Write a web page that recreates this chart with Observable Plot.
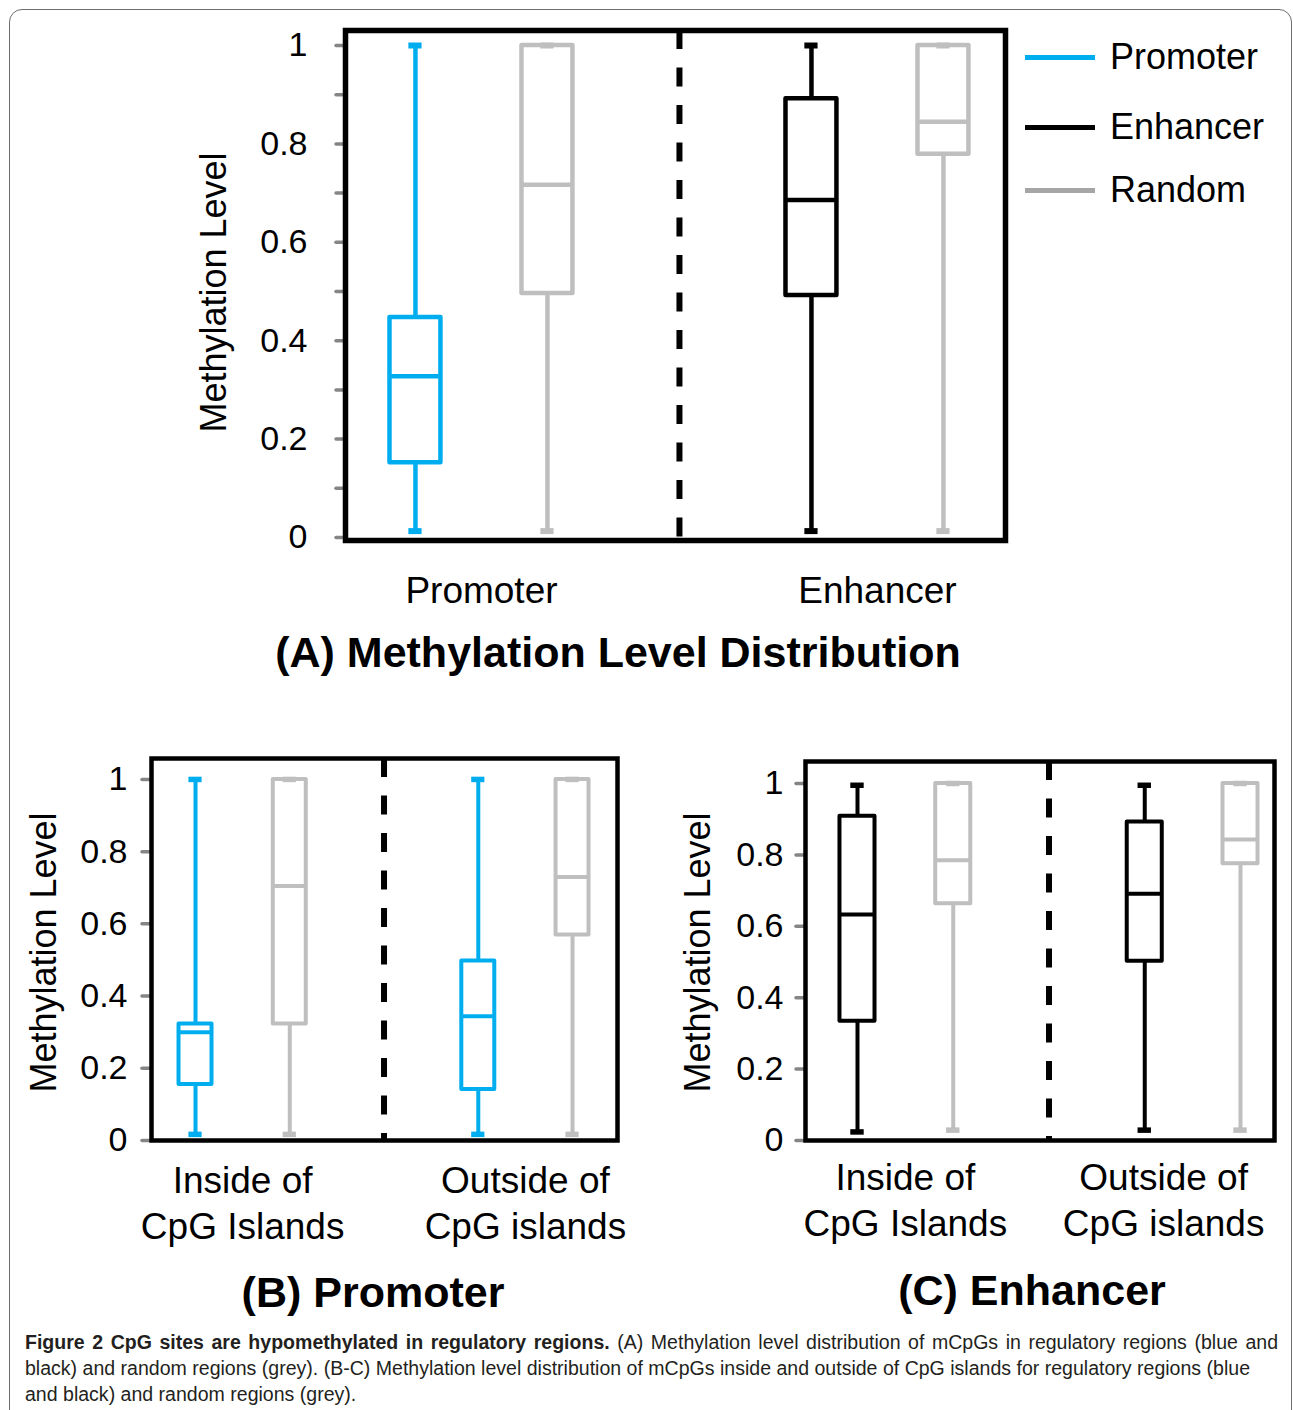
<!DOCTYPE html>
<html>
<head>
<meta charset="utf-8">
<script src="https://cdn.jsdelivr.net/npm/d3@7"></script>
<script src="https://cdn.jsdelivr.net/npm/@observablehq/plot@0.6"></script>
<style>
  html, body { margin: 0; padding: 0; background: #fff; }
  body { width: 1293px; height: 1410px; position: relative; overflow: hidden;
         font-family: "Liberation Sans", Arial, sans-serif; color: #000; }
  #border { position: absolute; left: 9px; top: 9px; width: 1281px; height: 1450px;
            border: 1.5px solid #6e6e6e; border-radius: 13px; }
  .panel { position: absolute; }
  .panel svg { overflow: visible; }
  .title { position: absolute; font-weight: bold; font-size: 43px; line-height: 1;
           transform: translate(-50%, -50%); white-space: nowrap; }
  .legrow { position: absolute; left: 1025px; transform: translateY(-50%); display: flex;
            align-items: center; font-size: 36px; line-height: 1; white-space: nowrap; }
  .legrow .bar { width: 70px; height: 5px; margin-right: 15px; }
  #caption { position: absolute; left: 25px; top: 1329px;
             font-family: "Liberation Sans", Arial, sans-serif;
             font-size: 20px; line-height: 26px; color: #231f20; transform-origin: 0 0; }
  #caption div { white-space: nowrap; }
  #caption div.just { text-align: justify; text-align-last: justify; }
</style>
</head>
<body>
<div id="border"></div>
<div id="plotA" class="panel" style="left:0px;top:0px"></div>
<div id="plotB" class="panel" style="left:0px;top:700px"></div>
<div id="plotC" class="panel" style="left:640px;top:700px"></div>
<div id="titleA" class="title" style="left:618px;top:652px"></div>
<div id="titleB" class="title" style="left:373px;top:1292px"></div>
<div id="titleC" class="title" style="left:1032px;top:1290px"></div>
<div id="legend"></div>
<div id="caption"></div>
<script>
// ---------------- DATA ----------------
const seriesNames   = ["Promoter", "Enhancer", "Random"];
const seriesColors  = ["#00AEEF", "#000000", "#BFBFBF"];
const legendColors  = ["#00AEEF", "#000000", "#A6A6A6"];
const yLabel = "Methylation Level";
const minorTicks = [0, 0.1, 0.2, 0.3, 0.4, 0.5, 0.6, 0.7, 0.8, 0.9, 1];
const majorTicks = [0, 0.2, 0.4, 0.6, 0.8, 1];

// Panel A: Methylation Level Distribution
const aTitle  = "(A) Methylation Level Distribution";
const aGroups = ["Promoter", "Enhancer"];
const aSeries = ["Promoter", "Random", "Enhancer", "Random"];
const aLow    = [0.013, 0.013, 0.013, 0.013];
const aQ1     = [0.152, 0.496, 0.492, 0.779];
const aMedian = [0.328, 0.717, 0.686, 0.845];
const aQ3     = [0.447, 1.000, 0.892, 1.000];
const aHigh   = [1.000, 1.000, 1.000, 1.000];

// Panel B: Promoter
const bTitle  = "(B) Promoter";
const bGroups = ["Inside of\nCpG Islands", "Outside of\nCpG islands"];
const bSeries = ["Promoter", "Random", "Promoter", "Random"];
const bLow    = [0.017, 0.017, 0.017, 0.017];
const bQ1     = [0.155, 0.323, 0.141, 0.569];
const bMedian = [0.300, 0.705, 0.344, 0.730];
const bQ3     = [0.323, 1.000, 0.497, 1.000];
const bHigh   = [1.000, 1.000, 1.000, 1.000];

// Panel C: Enhancer
const cTitle  = "(C) Enhancer";
const cGroups = ["Inside of\nCpG Islands", "Outside of\nCpG islands"];
const cSeries = ["Enhancer", "Random", "Enhancer", "Random"];
const cLow    = [0.024, 0.029, 0.029, 0.029];
const cQ1     = [0.334, 0.663, 0.502, 0.775];
const cMedian = [0.633, 0.785, 0.691, 0.843];
const cQ3     = [0.908, 1.000, 0.892, 1.000];
const cHigh   = [0.995, 1.000, 0.995, 1.000];

const captionBold = "Figure 2 CpG sites are hypomethylated in regulatory regions.";
const captionLines = [
  " (A) Methylation level distribution of mCpGs in regulatory regions (blue and",
  "black) and random regions (grey). (B-C) Methylation level distribution of mCpGs inside and outside of CpG islands for regulatory regions (blue",
  "and black) and random regions (grey)."
];

// ---------------- BUILD ----------------
function rowsOf(groups, series, low, q1, median, q3, high) {
  return series.map((s, i) => ({
    series: s, group: groups[Math.floor(i / 2)],
    slot: Math.floor(i / 2) * 3 + (i % 2) + 1,
    low: low[i], q1: q1[i], median: median[i], q3: q3[i], high: high[i]
  }));
}

function boxPanel(o) {
  const rows = rowsOf(o.groups, o.series, o.low, o.q1, o.median, o.q3, o.high);
  const groupRows = o.groups.map((g, k) => ({label: g, slot: k * 3 + 1.5}));
  const separators = o.groups.slice(1).map((g, k) => (k + 1) * 3);
  const bw = o.boxW, cw = o.capW;
  const fmt = o.minor ? (d => { const r = Math.round(d * 10); return r % 2 === 0 ? String(r / 10) : ""; })
                      : (d => String(+d.toFixed(1)));
  const groupLabelMarks = groupRows.map((g, k) =>
    Plot.text([g], {x: "slot", text: "label", frameAnchor: "bottom", lineAnchor: "middle", textAnchor: "middle",
                    dx: (o.groupDx || [])[k] || 0, dy: o.xLabelDy,
                    fontSize: 37, lineHeight: 1.22, fill: "#000"}));
  return Plot.plot({
    width: o.width, height: o.height,
    marginLeft: o.marginLeft, marginRight: o.marginRight,
    marginTop: o.marginTop, marginBottom: o.marginBottom,
    style: {fontFamily: '"Liberation Sans", Arial, sans-serif', color: "#000", background: "transparent", overflow: "visible"},
    x: {domain: o.xDomain, axis: null},
    y: {domain: o.yDomain, label: null},
    color: {domain: seriesNames, range: seriesColors},
    marks: [
      Plot.axisY({ticks: o.minor ? minorTicks : majorTicks, tickSize: 9, tickPadding: o.tickPadding,
                  stroke: "#858585", strokeWidth: 3.5, strokeLinecap: "round", fill: "#000",
                  fontSize: o.tickFont, tickFormat: fmt, label: null}),
      Plot.ruleX(rows, {x: "slot", y1: "q3", y2: "high", stroke: "series", strokeWidth: o.sw}),
      Plot.ruleX(rows, {x: "slot", y1: "low", y2: "q1", stroke: "series", strokeWidth: o.sw}),
      Plot.ruleY(rows, {y: "low", x1: d => d.slot - cw / 2, x2: d => d.slot + cw / 2, stroke: "series", strokeWidth: o.sw + 1.5}),
      Plot.ruleY(rows, {y: "high", x1: d => d.slot - cw / 2, x2: d => d.slot + cw / 2, stroke: "series", strokeWidth: o.sw + 1.5}),
      Plot.rect(rows, {x1: d => d.slot - bw / 2, x2: d => d.slot + bw / 2, y1: "q1", y2: "q3",
                       stroke: "series", fill: "none", strokeWidth: o.sw, strokeLinejoin: "round"}),
      Plot.ruleY(rows, {y: "median", x1: d => d.slot - bw / 2, x2: d => d.slot + bw / 2, stroke: "series", strokeWidth: o.sw}),
      Plot.ruleX(separators, {x: d => d, stroke: "#000", strokeWidth: 6, strokeDasharray: "19,18.5"}),
      Plot.frame({stroke: "#000", strokeWidth: o.frameW}),
      ...groupLabelMarks,
      Plot.text([yLabel], {text: d => d, frameAnchor: "left", rotate: -90, textAnchor: "middle", lineAnchor: "middle",
                           dx: o.yLabelDx, dy: o.yLabelDy, fontSize: 36, fill: "#000"})
    ]
  });
}

document.getElementById("plotA").append(boxPanel({
  groups: aGroups, series: aSeries, low: aLow, q1: aQ1, median: aMedian, q3: aQ3, high: aHigh,
  width: 1010, height: 620, marginLeft: 345, marginRight: 5, marginTop: 30, marginBottom: 80,
  xDomain: [0.47, 5.47], yDomain: [-0.0061, 1.0305],
  boxW: 0.386, capW: 0.1, sw: 4.5, frameW: 5.5, minor: true, tickPadding: 29, tickFont: 34,
  xLabelDy: 48, yLabelDx: -131, yLabelDy: 7
}));
document.getElementById("plotB").append(boxPanel({
  groups: bGroups, series: bSeries, low: bLow, q1: bQ1, median: bMedian, q3: bQ3, high: bHigh,
  width: 622, height: 550, marginLeft: 151, marginRight: 5, marginTop: 58, marginBottom: 110,
  xDomain: [0.533, 5.477], yDomain: [0, 1.058],
  boxW: 0.35, capW: 0.14, sw: 4, frameW: 4.5, minor: false, tickPadding: 15, tickFont: 34,
  xLabelDy: 61, yLabelDx: -107, yLabelDy: 3
}));
document.getElementById("plotC").append(boxPanel({
  groups: cGroups, series: cSeries, low: cLow, q1: cQ1, median: cMedian, q3: cQ3, high: cHigh,
  width: 639, height: 550, marginLeft: 165, marginRight: 5, marginTop: 61, marginBottom: 110,
  xDomain: [0.457, 5.355], yDomain: [0, 1.0616], groupDx: [0, -29],
  boxW: 0.366, capW: 0.14, sw: 4, frameW: 4.5, minor: false, tickPadding: 13, tickFont: 34,
  xLabelDy: 58, yLabelDx: -107.5, yLabelDy: 1.5
}));

document.getElementById("titleA").textContent = aTitle;
document.getElementById("titleB").textContent = bTitle;
document.getElementById("titleC").textContent = cTitle;

// Legend
const legendY = [57, 127, 190];
const legend = document.getElementById("legend");
seriesNames.forEach((name, i) => {
  const row = document.createElement("div");
  row.className = "legrow";
  row.style.top = legendY[i] + "px";
  const bar = document.createElement("span");
  bar.className = "bar";
  bar.style.background = legendColors[i];
  const txt = document.createElement("span");
  txt.textContent = name;
  row.append(bar, txt);
  legend.append(row);
});

// Caption
const cap = document.getElementById("caption");
const lineDivs = captionLines.map((line, i) => {
  const div = document.createElement("div");
  const span = document.createElement("span");
  if (i === 0) {
    const b = document.createElement("b");
    b.textContent = captionBold;
    span.append(b);
  }
  span.append(document.createTextNode(line));
  div.append(span);
  cap.append(div);
  return div;
});
// condense horizontally so line 2 ends where the reference's does; justify line 1 to the block width
const w2 = lineDivs[1].querySelector("span").getBoundingClientRect().width;
if (w2 > 0) {
  const s = Math.min(1.1, 1225 / w2);
  cap.style.transform = `scaleX(${s})`;
  cap.style.width = (1253 / s) + "px";
  lineDivs[0].classList.add("just");
  lineDivs[0].style.whiteSpace = "normal";
}
</script>
</body>
</html>
